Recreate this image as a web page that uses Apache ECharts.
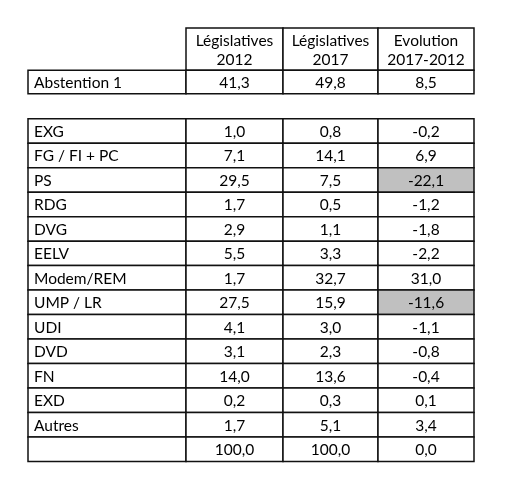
<!DOCTYPE html>
<html>
<head>
<meta charset="utf-8">
<script src="https://cdn.jsdelivr.net/npm/echarts@6/dist/echarts.min.js"></script>
<style>html,body{margin:0;background:#fff}#main{width:530px;height:485px}</style>
</head>
<body>
<div id="main"></div>
<script>
const headers = ["Législatives\n2012", "Législatives\n2017", "Evolution\n2017-2012"]
const abstention = ["Abstention 1", "41,3", "49,8", "8,5"]
const parties = ["EXG", "FG / FI + PC", "PS", "RDG", "DVG", "EELV", "Modem/REM", "UMP / LR", "UDI", "DVD", "FN", "EXD", "Autres", ""]
const v2012 = ["1,0", "7,1", "29,5", "1,7", "2,9", "5,5", "1,7", "27,5", "4,1", "3,1", "14,0", "0,2", "1,7", "100,0"]
const v2017 = ["0,8", "14,1", "7,5", "0,5", "1,1", "3,3", "32,7", "15,9", "3,0", "2,3", "13,6", "0,3", "5,1", "100,0"]
const evol = ["-0,2", "6,9", "-22,1", "-1,2", "-1,8", "-2,2", "31,0", "-11,6", "-1,1", "-0,8", "-0,4", "0,1", "3,4", "0,0"]
const shaded = ["PS", "UMP / LR"]

// layout in axis units
const colEdges = [0, 158, 255, 350, 446]
const FONT = "Lato"

// cells: [col, rowTop, rowBottom, text, fill]
let cells = []
headers.forEach((h, i) => cells.push([i + 1, 0, 1.72, h, null]))
abstention.forEach((t, i) => cells.push([i, 1.72, 2.68, t, null]))
parties.forEach((p, r) => {
    const top = 3.7 + r
    const row = [p, v2012[r], v2017[r], evol[r]]
    row.forEach((t, c) => {
        const fill = (c === 3 && shaded.includes(p)) ? "#c0c0c0" : null
        cells.push([c, top, top + 1, t, fill])
    })
})

const chart = echarts.init(document.getElementById("main"))
chart.setOption({
    animation: false,
    grid: {left: 28, top: 28, width: 446, height: 433.6},
    xAxis: {type: "value", min: 0, max: 446, show: false},
    yAxis: {type: "value", min: 0, max: 17.7, inverse: true, show: false},
    series: [{
        type: "custom",
        data: cells,
        renderItem: (params, api) => {
            const c = api.value(0)
            const p1 = api.coord([colEdges[c], api.value(1)])
            const p2 = api.coord([colEdges[c + 1], api.value(2)])
            const d = cells[params.dataIndex]
            const left = c === 0
            return {
                type: "group",
                children: [{
                    type: "rect",
                    shape: {x: p1[0], y: p1[1], width: p2[0] - p1[0], height: p2[1] - p1[1]},
                    style: {fill: d[4] || "#fff", stroke: "#111", lineWidth: 1.5}
                }, {
                    type: "text",
                    style: {
                        x: left ? p1[0] + 6 : (p1[0] + p2[0]) / 2,
                        y: (p1[1] + p2[1]) / 2 + 1,
                        text: d[3],
                        textAlign: left ? "left" : "center",
                        textVerticalAlign: "middle",
                        font: "15.5px " + FONT,
                        lineHeight: 19,
                        fill: "#000"
                    }
                }]
            }
        }
    }]
})
</script>
</body>
</html>
